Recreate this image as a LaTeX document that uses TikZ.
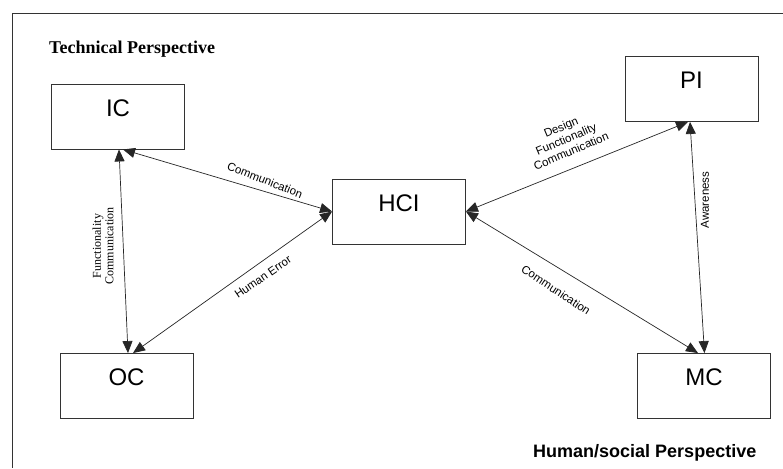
\documentclass[tikz,border=0pt]{standalone}
\usepackage{fontspec}
\setmainfont{Liberation Serif}
\newfontfamily\arialf{Liberation Sans}
\usetikzlibrary{arrows.meta}
\begin{document}
\begin{tikzpicture}[x=1pt,y=-1pt,
  boxnode/.style={draw=black!80,line width=0.9pt,rectangle,minimum width=133pt,minimum height=65pt,
    inner sep=0pt,font=\arialf\fontsize{24}{24}\selectfont,text height=17.2pt,text depth=18pt},
  arr/.style={draw=black!85,line width=0.7pt,{Triangle[length=12pt,width=10pt]}-{Triangle[length=12pt,width=10pt]}},
  lbl/.style={font=\arialf\fontsize{11.5}{13}\selectfont,align=center,inner sep=0pt},
  slbl/.style={font=\fontsize{12}{12.5}\selectfont,align=center,inner sep=0pt}]
\useasboundingbox (0,0) rectangle (783,468);
\fill[white] (0,0) rectangle (783,468);
\draw[black!80,line width=0.9pt] (783,13) -- (12,13) -- (12,468);

\node[boxnode] (IC) at (118,116.5) {IC};
\node[boxnode] (PI) at (691.5,89) {PI};
\node[boxnode] (HCI) at (399,211.5) {HCI};
\node[boxnode] (OC) at (126.5,386) {OC};
\node[boxnode] (MC) at (704,386) {MC};

\node[anchor=base west,inner sep=0pt,font=\bfseries\fontsize{18}{18}\selectfont] (tp) at (49,54) {Technical Perspective};
\node[anchor=base west,inner sep=0pt,font=\arialf\bfseries\fontsize{18}{18}\selectfont] (hp) at (533,457) {Human/social Perspective};

\draw[arr] ([xshift=5pt]IC.south) -- (HCI.west);
\draw[arr] ([xshift=1pt]IC.south) -- ([xshift=1.5pt]OC.north);
\draw[arr] ([xshift=6.5pt]OC.north) -- (HCI.west);
\draw[arr] (HCI.east) -- ([xshift=-3.5pt]PI.south);
\draw[arr] ([xshift=-1.5pt]PI.south) -- ([xshift=0.5pt]MC.north);
\draw[arr] (HCI.east) -- ([xshift=-6pt]MC.north);

\node[lbl,rotate=-21.5] (l1) at (265,180) {Communication};
\node[lbl,rotate=34.4] (l2) at (263,277) {Human Error};
\node[slbl,rotate=90] (l3) at (103,246) {Functionality\\Communication};
\node[lbl,rotate=23] (l4) at (566,139) {Design\\Functionality\\Communication};
\node[lbl,rotate=90] (l5) at (705,200) {Awareness};
\node[lbl,rotate=-33.5] (l6) at (556,290) {Communication};
\end{tikzpicture}
\end{document}
